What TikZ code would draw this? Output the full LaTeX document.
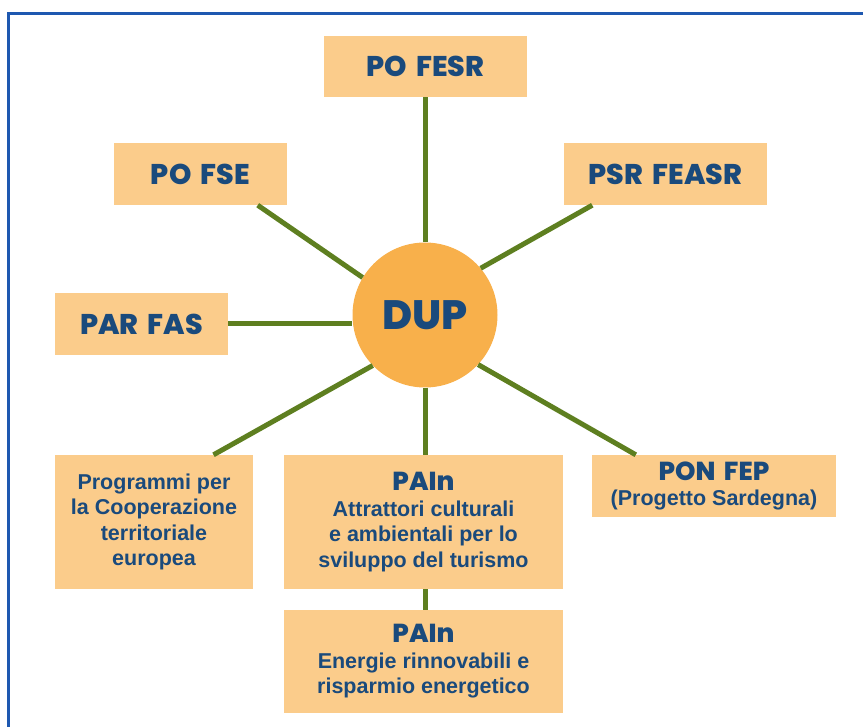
\documentclass[tikz,border=0pt]{standalone}
\usepackage{fontspec}
\setmainfont{Liberation Sans}
\newfontfamily\headfont{Poppins}[BoldFont={Poppins ExtraBold}, WordSpace=1.7]
\usetikzlibrary{positioning,calc}
\definecolor{boxfill}{HTML}{FBCC8B}
\definecolor{hubfill}{HTML}{F8B04B}
\definecolor{inkblue}{HTML}{1A4A7C}
\definecolor{linkgreen}{HTML}{5E7F20}
\definecolor{framecol}{HTML}{1E58B0}
\tikzset{
  fund/.style={fill=boxfill, text=inkblue, inner sep=0pt, align=center,
    font=\bfseries\fontsize{21.5}{25.5}\selectfont},
  head/.style={fund, font=\headfont\bfseries\fontsize{28.5}{32}\selectfont},
  link/.style={draw=linkgreen, line width=5pt}
}
\newcommand{\heading}[1]{{\headfont\bfseries\fontsize{26}{28}\selectfont #1}}

\begin{document}
\begin{tikzpicture}[x=1pt, y=-1pt]
    \useasboundingbox (0,0) rectangle (863,727);
    \draw[framecol, line width=3pt] (863,14) -- (8,14) -- (8,727);
    \node[head, minimum width=203pt, minimum height=61pt] (pofesr) at (425.5,66.5) {PO FESR};
    \node[head, minimum width=173pt, minimum height=62pt] (pofse) at (200.5,174) {PO FSE};
    \node[head, minimum width=203pt, minimum height=62pt] (psrfeasr) at (665.5,174) {PSR FEASR};
    \node[head, minimum width=173pt, minimum height=62pt] (parfas) at (141.5,324) {PAR FAS};
    \node[circle, fill=hubfill, text=inkblue, inner sep=0pt, minimum size=145pt,
      font=\headfont\bfseries\fontsize{41}{44}\selectfont] (dup) at (425,315) {DUP};
    \node[fund, minimum width=198pt, minimum height=134pt] (coop) at (154,522)
      {Programmi per\\la Cooperazione\\territoriale\\europea};
    \node[fund, minimum width=279pt, minimum height=134pt] (pain1) at (423.5,522)
      {\heading{PAIn}\\Attrattori culturali\\e ambientali per lo\\sviluppo del turismo};
    \node[fund, minimum width=279pt, minimum height=103pt] (pain2) at (423.5,661.5)
      {\heading{PAIn}\\Energie rinnovabili e\\risparmio energetico};
    \node[fund, minimum width=244pt, minimum height=62pt] (ponfep) at (714,486)
      {\heading{PON FEP}\\(Progetto Sardegna)};
    \draw[link] (dup.north) -- (dup.north |- pofesr.south);
    \draw[link] (dup.149) -- ($(pofse.south west)!0.83!(pofse.south east)$);
    \draw[link] (dup.40) -- ($(psrfeasr.south west)!0.14!(psrfeasr.south east)$);
    \draw[link] (parfas.east) -- (parfas.east -| dup.west);
    \draw[link] (dup.224) -- ($(coop.north west)!0.8!(coop.north east)$);
    \draw[link] (dup.-43) -- ($(ponfep.north west)!0.18!(ponfep.north east)$);
    \draw[link] (dup.south) -- (dup.south |- pain1.north);
    \draw[link] (dup.south |- pain1.south) -- (dup.south |- pain2.north);
\end{tikzpicture}
\end{document}
